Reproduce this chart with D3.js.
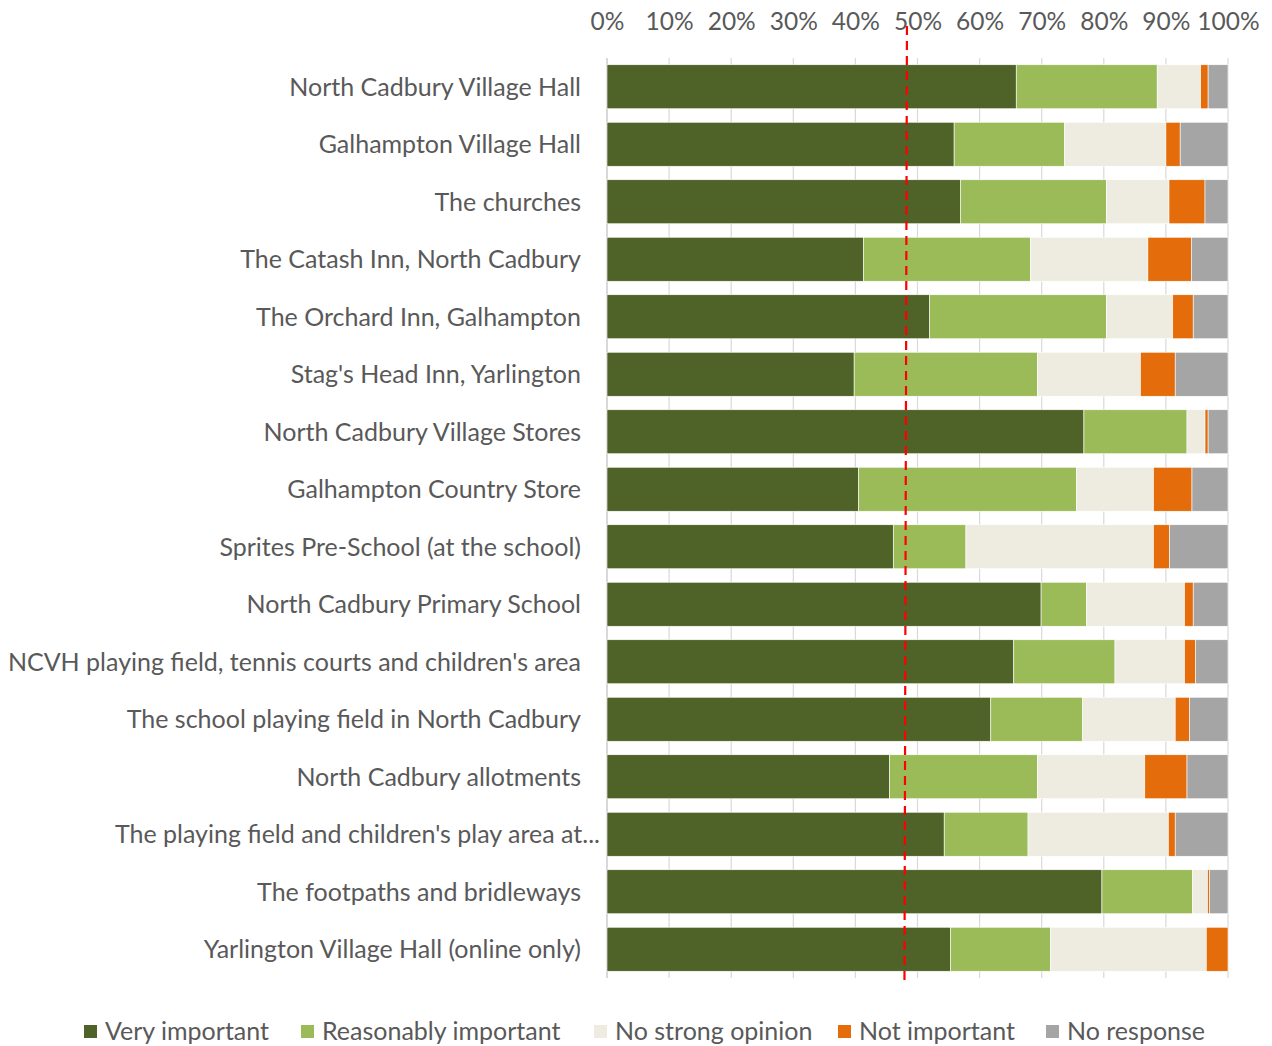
<!DOCTYPE html>
<html>
<head>
<meta charset="utf-8">
<script src="https://cdn.jsdelivr.net/npm/d3@7"></script>
<style>
  html, body { margin: 0; padding: 0; background: #fff; }
  svg { display: block; }
  text { font-family: Lato, "Open Sans", sans-serif; fill: #595959; }
</style>
</head>
<body>
<svg id="chart" width="1272" height="1046"></svg>
<script>
// Facilities surveyed, top to bottom
const categories = [
  "North Cadbury Village Hall",
  "Galhampton Village Hall",
  "The churches",
  "The Catash Inn, North Cadbury",
  "The Orchard Inn, Galhampton",
  "Stag's Head Inn, Yarlington",
  "North Cadbury Village Stores",
  "Galhampton Country Store",
  "Sprites Pre-School (at the school)",
  "North Cadbury Primary School",
  "NCVH playing field, tennis courts and children's area",
  "The school playing field in North Cadbury",
  "North Cadbury allotments",
  "The playing field and children's play area at...",
  "The footpaths and bridleways",
  "Yarlington Village Hall (online only)"
];

// Share of responses (%) per answer
const veryImportant       = [65.9, 55.9, 56.9, 41.3, 51.9, 39.8, 76.8, 40.5, 46.1, 69.9, 65.5, 61.8, 45.5, 54.3, 79.7, 55.3];
const reasonablyImportant = [22.7, 17.8, 23.5, 26.9, 28.5, 29.5, 16.6, 35.1, 11.7,  7.3, 16.3, 14.8, 23.8, 13.5, 14.6, 16.1];
const noStrongOpinion     = [ 7.0, 16.3, 10.1, 18.9, 10.7, 16.6,  2.9, 12.4, 30.2, 15.8, 11.2, 14.9, 17.3, 22.6,  2.4, 25.1];
const notImportant        = [ 1.2,  2.3,  5.8,  7.0,  3.3,  5.6,  0.5,  6.2,  2.6,  1.4,  1.8,  2.3,  6.8,  1.1,  0.3,  3.5];
const noResponse          = [ 3.2,  7.7,  3.7,  5.9,  5.6,  8.5,  3.2,  5.8,  9.4,  5.6,  5.2,  6.2,  6.6,  8.5,  3.0,  0.0];

const seriesNames = ["Very important", "Reasonably important", "No strong opinion", "Not important", "No response"];
const seriesColors = ["#4f6228", "#9bbb59", "#eeece1", "#e46c0a", "#a5a5a5"];

const tickValues = [0, 10, 20, 30, 40, 50, 60, 70, 80, 90, 100];

// Reference marker for the halfway point (drawn slightly off vertical)
const markerTop = 48.3;
const markerBottom = 47.9;

const rows = categories.map((c, i) => ({
  category: c,
  "Very important": veryImportant[i],
  "Reasonably important": reasonablyImportant[i],
  "No strong opinion": noStrongOpinion[i],
  "Not important": notImportant[i],
  "No response": noResponse[i]
}));

const svg = d3.select("#chart");
const plot = { left: 607, right: 1228, top: 58, bottom: 978 };

const x = d3.scaleLinear().domain([0, 100]).range([plot.left, plot.right]);
const y = d3.scaleBand().domain(categories).range([plot.top, plot.bottom]).paddingInner(0.235).paddingOuter(0.1175);
const color = d3.scaleOrdinal().domain(seriesNames).range(seriesColors);

// Vertical gridlines
svg.append("g")
  .selectAll("line")
  .data(tickValues)
  .join("line")
  .attr("x1", d => x(d)).attr("x2", d => x(d))
  .attr("y1", plot.top).attr("y2", plot.bottom)
  .attr("stroke", d => d === 0 ? "#bfbfbf" : "#d9d9d9")
  .attr("stroke-width", 1.2);

// Top percentage axis
const xAxis = svg.append("g")
  .attr("transform", `translate(0,${plot.top})`)
  .call(d3.axisTop(x).tickValues(tickValues).tickFormat(d => d + "%").tickSize(0).tickPadding(28));
xAxis.select(".domain").remove();
xAxis.selectAll("text")
  .style("font-size", "24.5px")
  .style("font-family", "Lato, sans-serif")
  .attr("fill", "#595959");

// Stacked bars
const stacked = d3.stack().keys(seriesNames)(rows);
svg.append("g")
  .selectAll("g")
  .data(stacked)
  .join("g")
  .attr("fill", d => color(d.key))
  .selectAll("rect")
  .data(d => d)
  .join("rect")
  .attr("x", d => x(d[0]))
  .attr("y", d => y(d.data.category))
  .attr("width", d => x(d[1]) - x(d[0]))
  .attr("height", y.bandwidth())
  .attr("stroke", "#ffffff")
  .attr("stroke-width", 0.6);

// Category labels
svg.append("g")
  .selectAll("text")
  .data(categories)
  .join("text")
  .attr("x", d => d.endsWith("...") ? 600 : 581)
  .attr("y", d => y(d) + y.bandwidth() / 2)
  .attr("dy", "0.35em")
  .attr("text-anchor", "end")
  .style("font-size", "25px")
  .text(d => d);

// Halfway marker
svg.append("line")
  .attr("x1", x(markerTop)).attr("x2", x(markerBottom))
  .attr("y1", 26).attr("y2", 982)
  .attr("stroke", "#ff0000")
  .attr("stroke-width", 2.2)
  .attr("stroke-dasharray", "9,6");

// Legend
const legendX = [84, 301, 594, 838, 1046];
const legend = svg.append("g")
  .selectAll("g")
  .data(seriesNames)
  .join("g")
  .attr("transform", (d, i) => `translate(${legendX[i]},1031)`);
legend.append("rect")
  .attr("x", 0).attr("y", -6).attr("width", 13).attr("height", 13)
  .attr("fill", d => color(d));
legend.append("text")
  .attr("x", 21).attr("y", 0).attr("dy", "0.35em")
  .style("font-size", "25px")
  .text(d => d);
</script>
</body>
</html>
